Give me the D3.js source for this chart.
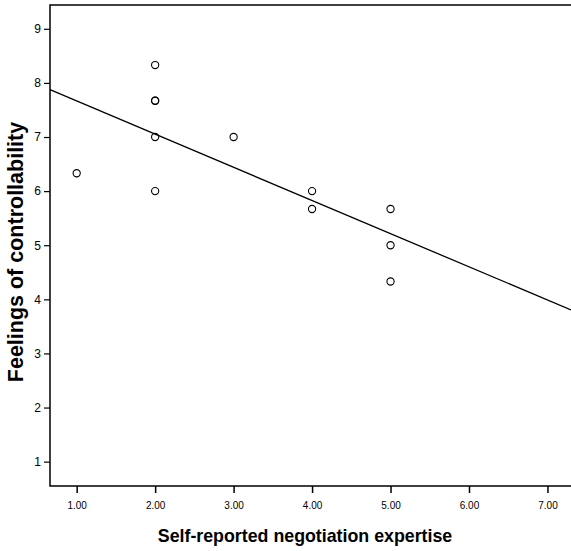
<!DOCTYPE html>
<html>
<head>
<meta charset="utf-8">
<script src="https://cdn.jsdelivr.net/npm/d3@7"></script>
<style>
  body { margin: 0; background: #fff; }
  svg { display: block; }
  .tick text { font-family: "Liberation Sans", Arial, sans-serif; fill: #000; }
  .title { font-family: "Liberation Sans", Arial, sans-serif; font-weight: bold; }
</style>
</head>
<body>
<div id="chart"></div>
<script>
// data
var expertise = [1, 2, 2, 2, 2, 2, 3, 4, 4, 5, 5, 5]
var controllability = [6.33, 8.33, 7.67, 7.67, 7.0, 6.0, 7.0, 6.0, 5.67, 5.67, 5.0, 4.33]
var xTicks = [1, 2, 3, 4, 5, 6, 7]
var yTicks = [1, 2, 3, 4, 5, 6, 7, 8, 9]

var width = 571, height = 551
var margin = {top: 5, right: 0, bottom: 65, left: 50}

var svg = d3.select('#chart').append('svg')
  .attr('width', width)
  .attr('height', height)

var x = d3.scaleLinear().domain([0.66, 7.30]).range([margin.left, width - margin.right])
var y = d3.scaleLinear().domain([0.55, 9.44]).range([height - margin.bottom, margin.top])

// least squares fit
var mx = d3.mean(expertise), my = d3.mean(controllability)
var sxy = d3.sum(expertise, function(v, i) { return (v - mx) * (controllability[i] - my) })
var sxx = d3.sum(expertise, function(v) { return (v - mx) * (v - mx) })
var slope = sxy / sxx
var intercept = my - slope * mx

// frame: left, top, bottom
svg.append('path')
  .attr('d', 'M' + x.range()[1] + ',' + y.range()[1] + 'H' + x.range()[0] + 'V' + y.range()[0] + 'H' + x.range()[1])
  .attr('fill', 'none')
  .attr('stroke', '#000')
  .attr('stroke-width', 1.5)

var xAxis = svg.append('g')
  .attr('transform', 'translate(0,' + y.range()[0] + ')')
  .call(d3.axisBottom(x).tickValues(xTicks).tickFormat(d3.format('.2f')).tickSize(7).tickPadding(9))
xAxis.select('.domain').remove()
xAxis.selectAll('.tick line').attr('stroke-width', 1.5)
xAxis.selectAll('.tick text').style('font-size', '10px')

var yAxis = svg.append('g')
  .attr('transform', 'translate(' + x.range()[0] + ',0)')
  .call(d3.axisLeft(y).tickValues(yTicks).tickSize(6).tickPadding(3))
yAxis.select('.domain').remove()
yAxis.selectAll('.tick line').attr('stroke-width', 1.2)
yAxis.selectAll('.tick text').style('font-size', '12px')

// fit line
var xd = x.domain()
svg.append('line')
  .attr('x1', x(xd[0])).attr('y1', y(intercept + slope * xd[0]))
  .attr('x2', x(xd[1])).attr('y2', y(intercept + slope * xd[1]))
  .attr('stroke', '#000')
  .attr('stroke-width', 1.3)

svg.selectAll('circle.pt')
  .data(expertise.map(function(v, i) { return [v, controllability[i]] }))
  .enter().append('circle')
  .attr('class', 'pt')
  .attr('cx', function(d) { return x(d[0]) })
  .attr('cy', function(d) { return y(d[1]) })
  .attr('r', 3.6)
  .attr('fill', 'none')
  .attr('stroke', '#000')
  .attr('stroke-width', 1.1)

svg.append('text')
  .attr('class', 'title')
  .attr('x', 305)
  .attr('y', 542)
  .attr('text-anchor', 'middle')
  .style('font-size', '17.8px')
  .text('Self-reported negotiation expertise')

svg.append('text')
  .attr('class', 'title')
  .attr('transform', 'translate(23,252) rotate(-90)')
  .attr('text-anchor', 'middle')
  .style('font-size', '21.5px')
  .text('Feelings of controllability')
</script>
</body>
</html>
